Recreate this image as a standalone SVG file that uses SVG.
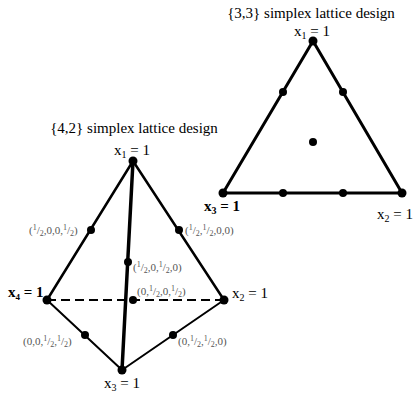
<svg xmlns="http://www.w3.org/2000/svg" width="414" height="394" viewBox="0 0 414 394">
<style>
.t{font-family:"Liberation Serif","Times New Roman",serif;fill:#000}
.title{font-size:15px}
.lab{font-size:15px}
.b{font-weight:bold}
.g{font-family:"Liberation Serif","Times New Roman",serif;font-size:11px;fill:#555}
.e{stroke:#000;fill:none;stroke-linecap:round}
.d{fill:#000}
</style>
<rect width="414" height="394" fill="#fff"/>
<g id="connectors">
<polygon class="e" points="313,41 223,193 402,193" stroke-width="3" stroke-linejoin="round"/>
<line class="e" x1="133" y1="161" x2="47" y2="300" stroke-width="2.5"/>
<line class="e" x1="133" y1="161" x2="224" y2="300" stroke-width="2.5"/>
<line class="e" x1="133" y1="161" x2="122" y2="370" stroke-width="3.5"/>
<line x1="47" y1="300" x2="224" y2="300" stroke="#000" stroke-width="2.2" stroke-dasharray="9,5"/>
<line class="e" x1="47" y1="300" x2="122" y2="370" stroke-width="2"/>
<line class="e" x1="224" y1="300" x2="122" y2="370" stroke-width="2"/>
</g>
<g id="title33"><text class="t title" x="311" y="18" text-anchor="middle">{3,3} simplex lattice design</text></g>
<g id="tri-x1"><circle class="d" cx="313" cy="41" r="4.5"/><text class="t lab" x="294" y="36">x<tspan font-size="10" dy="3">1</tspan><tspan dy="-3"> = 1</tspan></text></g>
<g id="tri-x3"><circle class="d" cx="223" cy="193" r="4.5"/><text class="t lab b" x="204" y="211">x<tspan font-size="10" dy="3">3</tspan><tspan dy="-3"> = 1</tspan></text></g>
<g id="tri-x2"><circle class="d" cx="402" cy="193" r="4.5"/><text class="t lab" x="377" y="219">x<tspan font-size="10" dy="3">2</tspan><tspan dy="-3"> = 1</tspan></text></g>
<g id="tri-p1"><circle class="d" cx="283" cy="92" r="4"/></g>
<g id="tri-p2"><circle class="d" cx="343" cy="92" r="4"/></g>
<g id="tri-p3"><circle class="d" cx="313" cy="142" r="4"/></g>
<g id="tri-p4"><circle class="d" cx="283" cy="193" r="4"/></g>
<g id="tri-p5"><circle class="d" cx="343" cy="193" r="4"/></g>
<g id="title42"><text class="t title" x="134" y="133" text-anchor="middle">{4,2} simplex lattice design</text></g>
<g id="tet-x1"><circle class="d" cx="133" cy="161" r="4.5"/><text class="t lab" x="114" y="155">x<tspan font-size="10" dy="3">1</tspan><tspan dy="-3"> = 1</tspan></text></g>
<g id="tet-x4"><circle class="d" cx="47" cy="300" r="4.5"/><text class="t lab b" x="8" y="297" font-size="14">x<tspan font-size="9" dy="3">4</tspan><tspan dy="-3"> = 1</tspan></text></g>
<g id="tet-x2"><circle class="d" cx="224" cy="300" r="4.5"/><text class="t lab" x="232" y="298">x<tspan font-size="10" dy="3">2</tspan><tspan dy="-3"> = 1</tspan></text></g>
<g id="tet-x3"><circle class="d" cx="122" cy="370" r="4.5"/><text class="t lab" x="104" y="388">x<tspan font-size="10" dy="3">3</tspan><tspan dy="-3"> = 1</tspan></text></g>
<g id="p1000-0001"><circle class="d" cx="91" cy="230" r="4"/><text class="g" x="29" y="234">(<tspan font-size="8" dy="-4">1</tspan><tspan dy="4">/</tspan><tspan font-size="8" dy="2">2</tspan><tspan dy="-2">,0,0,</tspan><tspan font-size="8" dy="-4">1</tspan><tspan dy="4">/</tspan><tspan font-size="8" dy="2">2</tspan><tspan dy="-2">)</tspan></text></g>
<g id="p1100"><circle class="d" cx="179" cy="230" r="4"/><text class="g" x="185" y="234">(<tspan font-size="8" dy="-4">1</tspan><tspan dy="4">/</tspan><tspan font-size="8" dy="2">2</tspan><tspan dy="-2">,</tspan><tspan font-size="8" dy="-4">1</tspan><tspan dy="4">/</tspan><tspan font-size="8" dy="2">2</tspan><tspan dy="-2">,0,0)</tspan></text></g>
<g id="p1010"><circle class="d" cx="128" cy="262" r="4"/><text class="g" x="133" y="271">(<tspan font-size="8" dy="-4">1</tspan><tspan dy="4">/</tspan><tspan font-size="8" dy="2">2</tspan><tspan dy="-2">,0,</tspan><tspan font-size="8" dy="-4">1</tspan><tspan dy="4">/</tspan><tspan font-size="8" dy="2">2</tspan><tspan dy="-2">,0)</tspan></text></g>
<g id="p0101"><circle class="d" cx="133" cy="300" r="4"/><text class="g" x="137" y="295">(0,<tspan font-size="8" dy="-4">1</tspan><tspan dy="4">/</tspan><tspan font-size="8" dy="2">2</tspan><tspan dy="-2">,0,</tspan><tspan font-size="8" dy="-4">1</tspan><tspan dy="4">/</tspan><tspan font-size="8" dy="2">2</tspan><tspan dy="-2">)</tspan></text></g>
<g id="p0011"><circle class="d" cx="85" cy="335" r="4"/><text class="g" x="23" y="345">(0,0,<tspan font-size="8" dy="-4">1</tspan><tspan dy="4">/</tspan><tspan font-size="8" dy="2">2</tspan><tspan dy="-2">,</tspan><tspan font-size="8" dy="-4">1</tspan><tspan dy="4">/</tspan><tspan font-size="8" dy="2">2</tspan><tspan dy="-2">)</tspan></text></g>
<g id="p0110"><circle class="d" cx="173" cy="335" r="4"/><text class="g" x="178" y="345">(0,<tspan font-size="8" dy="-4">1</tspan><tspan dy="4">/</tspan><tspan font-size="8" dy="2">2</tspan><tspan dy="-2">,</tspan><tspan font-size="8" dy="-4">1</tspan><tspan dy="4">/</tspan><tspan font-size="8" dy="2">2</tspan><tspan dy="-2">,0)</tspan></text></g>
</svg>
